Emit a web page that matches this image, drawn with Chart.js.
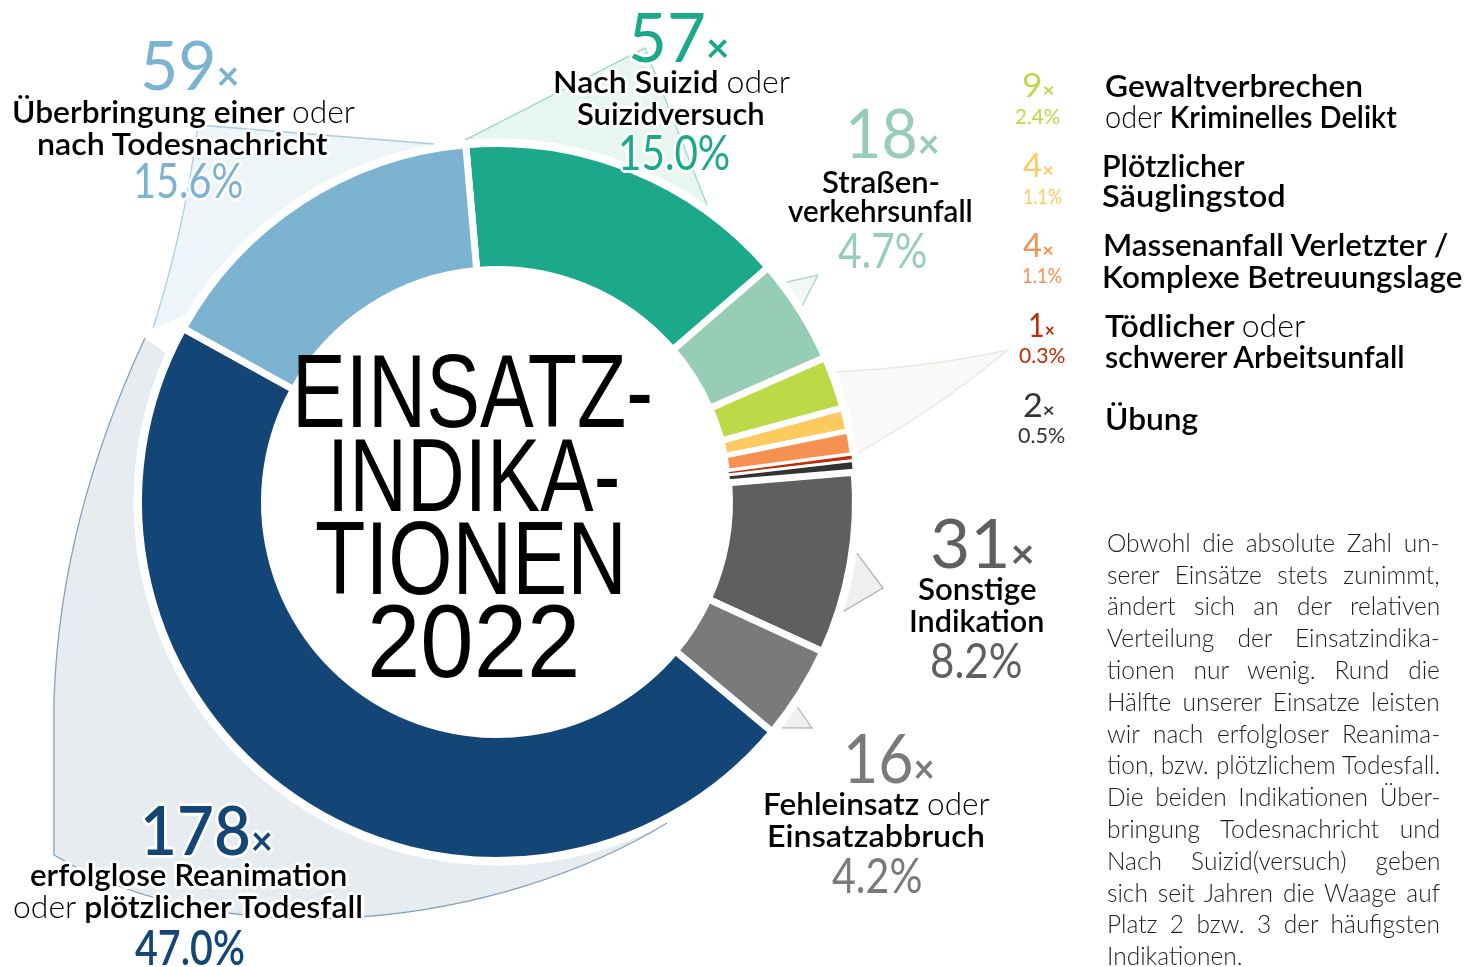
<!DOCTYPE html>
<html lang="de">
<head>
<meta charset="utf-8">
<title>Einsatzindikationen 2022</title>
<script src="https://cdn.jsdelivr.net/npm/chart.js@4.4.1/dist/chart.umd.min.js"></script>
<style>
  html, body { margin: 0; padding: 0; background: #fff; }
  #page { position: relative; width: 1465px; height: 967px; overflow: hidden; font-family: Lato, 'Open Sans', sans-serif; }
  #ring { position: absolute; left: 0; top: 0; z-index: 1; }
  .t { position: absolute; left: 0; top: 0; white-space: nowrap; line-height: 1; transform-origin: 0 0; z-index: 2; }
  .halo { text-shadow: -2px -2px 0 #fff, 2px -2px 0 #fff, -2px 2px 0 #fff, 2px 2px 0 #fff, -3px 0 0 #fff, 3px 0 0 #fff, 0 3px 0 #fff, 0 -3px 0 #fff; }
  .thin { font-weight: 300; }
  .x { font-size: .6em; font-weight: 700; }
  .probe { display: inline-block; width: 0; height: 0; vertical-align: baseline; }
</style>
</head>
<body>
<div id="page">
  <canvas id="ring" width="1465" height="967"></canvas>
</div>
<script>
// Einsatzindikationen 2022, clockwise from the top
const categories = [
  'Nach Suizid oder Suizidversuch',
  'Straßenverkehrsunfall',
  'Gewaltverbrechen oder Kriminelles Delikt',
  'Plötzlicher Säuglingstod',
  'Massenanfall Verletzter / Komplexe Betreuungslage',
  'Tödlicher oder schwerer Arbeitsunfall',
  'Übung',
  'Sonstige Indikation',
  'Fehleinsatz oder Einsatzabbruch',
  'erfolglose Reanimation oder plötzlicher Todesfall',
  'Überbringung einer oder nach Todesnachricht'
];
const counts = [57, 18, 9, 4, 4, 1, 2, 31, 16, 178, 59];
const percents = [15.0, 4.7, 2.4, 1.1, 1.1, 0.3, 0.5, 8.2, 4.2, 47.0, 15.6];
const colors = ['#1ba88b', '#97cdb6', '#bdd948', '#fdca60', '#f79152', '#bf2c06', '#333333', '#5f5f5f', '#7a7a7a', '#134676', '#7bb3d1'];

const titleLines = ['EINSATZ-', 'INDIKA-', 'TIONEN', '2022'];
const noteLines = [
  'Obwohl die absolute Zahl un-',
  'serer Einsätze stets zunimmt,',
  'ändert sich an der relativen',
  'Verteilung der Einsatzindika-',
  'tionen nur wenig. Rund die',
  'Hälfte unserer Einsatze leisten',
  'wir nach erfolgloser Reanima-',
  'tion, bzw. plötzlichem Todesfall.',
  'Die beiden Indikationen Über-',
  'bringung Todesnachricht und',
  'Nach Suizid(versuch) geben',
  'sich seit Jahren die Waage auf',
  'Platz 2 bzw. 3 der häufigsten',
  'Indikationen.'
];

// how the label text is broken into lines (*oder* is set thin)
const labelLines = [
  ['Nach Suizid *oder*', 'Suizidversuch'],
  ['Straßen-', 'verkehrsunfall'],
  ['Gewaltverbrechen', '*oder* Kriminelles Delikt'],
  ['Plötzlicher', 'Säuglingstod'],
  ['Massenanfall Verletzter /', 'Komplexe Betreuungslage'],
  ['Tödlicher *oder*', 'schwerer Arbeitsunfall'],
  ['Übung'],
  ['Sonstige', 'Indikation'],
  ['Fehleinsatz *oder*', 'Einsatzabbruch'],
  ['erfolglose Reanimation', '*oder* plötzlicher Todesfall'],
  ['Überbringung einer *oder*', 'nach Todesnachricht']
];

const page = document.getElementById('page');

// white gaps between the slices, thinner around the tiny slices so they stay visible
const gapWidths = [7, 7, 7, 6, 5, 2, 3, 7, 7, 7, 7];

const calloutPlugin = {
  id: 'callouts',
  beforeDatasetsDraw(chart) {
    const ctx = chart.ctx;
    const first = chart.getDatasetMeta(0).data[0];
    const cx = first.x, cy = first.y;
    const rim = first.outerRadius + 5;
    const rad = d => (d - 90) * Math.PI / 180;
    const at = d => [cx + rim * Math.sin(d * Math.PI / 180), cy - rim * Math.cos(d * Math.PI / 180)];

    function shape(fill, stroke, outline, edges) {
      ctx.save();
      ctx.beginPath(); outline(); ctx.closePath();
      ctx.fillStyle = fill; ctx.fill();
      ctx.beginPath(); edges();
      ctx.strokeStyle = stroke; ctx.lineWidth = 1.3; ctx.stroke();
      ctx.restore();
    }
    function pointer(a0, a1, apex, fill, stroke) {
      shape(fill, stroke, () => {
        ctx.moveTo(...at(a0)); ctx.lineTo(...apex); ctx.lineTo(...at(a1));
        ctx.arc(cx, cy, rim, rad(a1), rad(a0), true);
      }, () => {
        ctx.moveTo(...at(a0)); ctx.lineTo(...apex); ctx.lineTo(...at(a1));
      });
    }

    // erfolglose Reanimation
    shape('#e7ecf1', '#86a0bb', () => {
      ctx.moveTo(145, 338);
      ctx.quadraticCurveTo(60, 520, 54, 700);
      ctx.lineTo(54, 855);
      ctx.bezierCurveTo(230, 960, 500, 925, 667, 823);
      ctx.arc(cx, cy, rim, rad(152.1), rad(294.2), false);
    }, () => {
      ctx.moveTo(145, 338);
      ctx.quadraticCurveTo(60, 520, 54, 700);
      ctx.lineTo(54, 855);
      ctx.bezierCurveTo(230, 960, 500, 925, 667, 823);
    });

    // Überbringung Todesnachricht
    shape('#eef5f9', '#a8cde0', () => {
      ctx.moveTo(198, 125);
      ctx.lineTo(...at(-10));
      ctx.arc(cx, cy, rim, rad(-10), rad(-59), true);
      ctx.lineTo(153, 328);
      ctx.quadraticCurveTo(184, 232, 198, 125);
    }, () => {
      ctx.moveTo(...at(-10)); ctx.lineTo(198, 125);
      ctx.moveTo(153, 328); ctx.quadraticCurveTo(184, 232, 198, 125);
    });

    // Suizid
    shape('#e8f6f2', '#9ad8c8', () => {
      ctx.moveTo(645, 48);
      ctx.lineTo(...at(35.3));
      ctx.arc(cx, cy, rim, rad(35.3), rad(-5), true);
    }, () => {
      ctx.moveTo(...at(-5)); ctx.lineTo(645, 48); ctx.lineTo(...at(35.3));
    });

    // small indications fan
    shape('#faf9f7', '#ebe8e4', () => {
      ctx.moveTo(...at(69));
      ctx.quadraticCurveTo(925, 368, 1008, 350);
      ctx.quadraticCurveTo(935, 410, ...at(82.3));
      ctx.arc(cx, cy, rim, rad(82.3), rad(69), true);
    }, () => {
      ctx.moveTo(...at(69));
      ctx.quadraticCurveTo(925, 368, 1008, 350);
      ctx.quadraticCurveTo(935, 410, ...at(82.3));
    });

    pointer(52.8, 57.2, [818, 275], '#f1f8f5', '#a7d6c3');
    pointer(98.1, 107.5, [883, 588], '#efefef', '#b0b0b0');
    pointer(124.3, 128.4, [812, 728], '#efefef', '#b8b8b8');
  }
};

new Chart(document.getElementById('ring'), {
  type: 'doughnut',
  data: {
    labels: categories,
    datasets: [{
      data: counts,
      backgroundColor: colors,
      borderColor: '#ffffff',
      borderWidth: gapWidths,
      hoverOffset: 0
    }]
  },
  options: {
    responsive: false,
    animation: false,
    events: [],
    rotation: -5,
    radius: 358.5,
    cutout: '64.85%',
    layout: { padding: { left: 0, right: 471, top: 37, bottom: 0 } },
    plugins: { legend: { display: false }, tooltip: { enabled: false } }
  },
  plugins: [calloutPlugin]
});

// text placement: x is centre (or left edge), base is the baseline, width the target width
function put(html, o) {
  const el = document.createElement('div');
  el.className = 't' + (o.halo ? ' halo' : '');
  el.style.fontSize = o.size + 'px';
  el.style.fontWeight = o.weight || 400;
  el.style.color = o.color || '#000';
  if (o.family) el.style.fontFamily = o.family;
  el.innerHTML = html + '<span class="probe"></span>';
  page.appendChild(el);
  const natural = el.offsetWidth;
  const w = o.width || natural;
  if (o.justify) {
    const spaces = (el.textContent.match(/ /g) || []).length;
    if (spaces) el.style.wordSpacing = ((w - natural) / spaces) + 'px';
  } else if (o.width) {
    el.style.transform = 'scaleX(' + (w / natural) + ')';
  }
  el.style.left = (o.align === 'left' ? o.x : o.x - w / 2) + 'px';
  const probe = el.querySelector('.probe');
  el.style.top = (o.base - probe.offsetTop) + 'px';
  return el;
}

const fmtLine = s => s.replace(/\*(.+?)\*/g, '<span class="thin">$1</span>');
const fmtCount = n => n + '<span class="x">×</span>';
const fmtPct = p => p.toFixed(1) + '%';

// label positions per slice
const layout = [
  { num: [679, 62, 102], pct: [674, 170, 112], lines: [[671, 93, 237], [671, 125, 188]] },
  { num: [892, 158, 95], pct: [882, 268, 89], lines: [[881, 193, 118], [880, 222, 185]] },
  { num: [1038, 97, 33], pct: [1037, 124, 45], lines: [[1105, 97, 258], [1105, 128, 292]], legend: true },
  { num: [1038, 177, 31], pct: [1042, 204, 39], lines: [[1102, 177, 143], [1102, 207, 184]], legend: true },
  { num: [1038, 257, 31], pct: [1042, 283, 40], lines: [[1103, 256, 345], [1102, 288, 360]], legend: true },
  { num: [1041, 337, 27], pct: [1042, 363, 46], lines: [[1105, 337, 200], [1105, 368, 300]], legend: true },
  { num: [1039, 417, 32], pct: [1041, 443, 47], lines: [[1105, 430, 93]], legend: true },
  { num: [982, 568, 105], pct: [976, 678, 92], lines: [[977, 600, 118], [976, 632, 135]] },
  { num: [889, 783, 92], pct: [877, 893, 90], lines: [[876, 815, 227], [876, 847, 218]] },
  { num: [206, 855, 133], pct: [190, 965, 110], lines: [[188, 886, 317], [188, 918, 350]], heavy: true },
  { num: [190, 90, 100], pct: [188, 198, 110], lines: [[183, 123, 343], [182, 155, 291]] }
];

layout.forEach((L, i) => {
  const big = !L.legend;
  put(fmtCount(counts[i]), { x: L.num[0], base: L.num[1], width: L.num[2], size: big ? 68 : 32,
    weight: L.heavy ? 600 : 400, color: colors[i], halo: big });
  put(fmtPct(percents[i]), { x: L.pct[0], base: L.pct[1], width: L.pct[2], size: big ? 48 : 22,
    weight: L.heavy ? 600 : 400, color: colors[i], halo: big });
  labelLines[i].forEach((line, k) => {
    const p = L.lines[k];
    put(fmtLine(line), { x: p[0], base: p[1], width: p[2], size: 31, weight: 600,
      align: L.legend ? 'left' : 'center', halo: true });
  });
});

// title in the hole
const titlePos = [[472, 427, 361], [473, 511, 293], [471, 594, 312], [473, 677, 213]];
titleLines.forEach((line, k) => {
  const p = titlePos[k];
  put(line, { x: p[0], base: p[1], width: p[2], size: 104, family: "'Liberation Sans Narrow', 'Liberation Sans', sans-serif" });
});

// note text, justified
noteLines.forEach((line, k) => {
  const last = k === noteLines.length - 1;
  put(line, { x: 1107, base: 551.7 + k * 31.8, size: 24.5, weight: 300, color: '#1e1e1e', align: 'left',
    width: last ? 0 : 333, justify: !last });
});
</script>
</body>
</html>
